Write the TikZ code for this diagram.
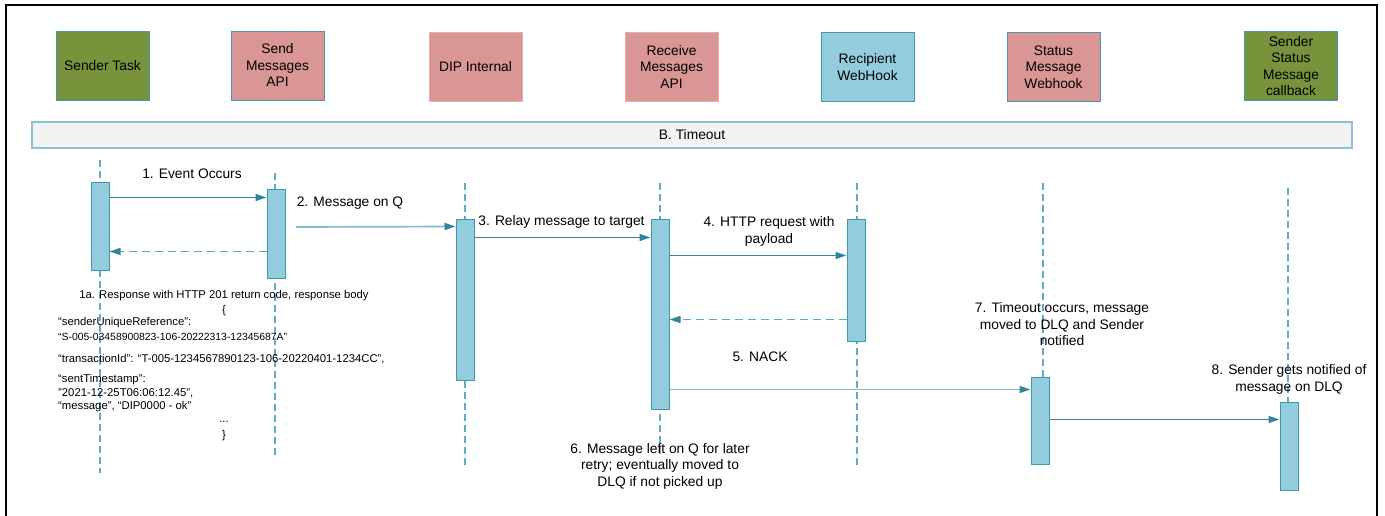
\documentclass[tikz,border=0pt]{standalone}
\usepackage{fontspec}
\setmainfont{Liberation Sans}
\usetikzlibrary{arrows.meta}
\definecolor{olive}{HTML}{77933C}
\definecolor{pinkf}{HTML}{D99694}
\definecolor{pinkb}{HTML}{E2AFAD}
\definecolor{bluef}{HTML}{93CDDD}
\definecolor{boxb}{HTML}{4A96AD}
\definecolor{teal}{HTML}{31849B}
\definecolor{lteal}{HTML}{80BCCB}
\definecolor{rteal}{HTML}{5DA9BF}
\definecolor{lifec}{HTML}{5FAEC4}
\definecolor{actb}{HTML}{3F98B2}
\definecolor{barb}{HTML}{8CC3D2}
\tikzset{
  hdr/.style={rectangle, minimum width=93pt, minimum height=69pt, inner sep=1pt, align=center,
    font=\fontsize{13.8}{16.5}\selectfont, line width=0.9pt},
  greenbox/.style={hdr, fill=olive, draw=boxb},
  pinkbox/.style={hdr, fill=pinkf, draw=boxb},
  pinkpale/.style={hdr, fill=pinkf, draw=pinkb},
  bluebox/.style={hdr, fill=bluef, draw=boxb},
  act/.style={rectangle, minimum width=18pt, inner sep=0pt, fill=bluef, draw=actb, line width=1pt},
  life/.style={draw=lifec, line width=1.2pt, dash pattern=on 7pt off 4pt},
  msg/.style={draw=teal, line width=1.3pt, -{Triangle[length=11pt,width=7pt]}},
  msgl/.style={draw=lteal, line width=1.7pt, -{Triangle[length=11pt,width=7pt,color=teal]}},
  ret/.style={draw=rteal, line width=1.6pt, dash pattern=on 8pt off 5pt, -{Triangle[length=11pt,width=7pt,color=teal]}},
  lbl/.style={inner sep=0pt, align=center, font=\fontsize{13.8}{16.5}\selectfont},
  small/.style={inner sep=0pt, font=\fontsize{11.3}{13.5}\selectfont},
  tiny/.style={inner sep=0pt, font=\fontsize{10.4}{12.5}\selectfont},
}
\begin{document}
\begin{tikzpicture}[x=1pt, y=-1pt]
\useasboundingbox (0,0) rectangle (1385,516);
% frame
\draw[line width=2.2pt] (6,518) -- (6,5) -- (1377,5) -- (1377,518);

% header boxes
\node[greenbox] (ST) at (102.5,65.5) {Sender Task};
\node[pinkbox] (SM) at (277.5,65.5) {Send\\Messages\\API};
\node[pinkpale] (DIP) at (475.5,67) {DIP Internal};
\node[pinkpale] (RM) at (671.5,67) {Receive\\Messages\\API};
\node[bluebox] (RW) at (867.5,67) {Recipient\\WebHook};
\node[pinkbox] (SW) at (1053.5,67) {Status\\Message\\Webhook};
\node[greenbox] (SC) at (1291,66) {Sender\\Status\\Message\\callback};

% timeout bar
\node[rectangle, minimum width=1320pt, minimum height=26pt, fill=black!5, draw=barb, line width=1.2pt,
  font=\fontsize{13.8}{16.5}\selectfont] (TO) at (692,135) {B. Timeout};

% lifelines
\coordinate (lST1) at (100,160); \coordinate (lST2) at (100,473);
\coordinate (lSM1) at (275,173); \coordinate (lSM2) at (275,459);
\coordinate (lDIP1) at (465,183); \coordinate (lDIP2) at (465,468);
\coordinate (lRM1) at (660,183); \coordinate (lRM2) at (660,457);
\coordinate (lRW1) at (857,183); \coordinate (lRW2) at (857,468);
\coordinate (lSW1) at (1043,183); \coordinate (lSW2) at (1043,469);
\coordinate (lSC1) at (1288,188); \coordinate (lSC2) at (1288,404);
\draw[life] (lST1) -- (lST2);
\draw[life] (lSM1) -- (lSM2);
\draw[life] (lDIP1) -- (lDIP2);
\draw[life] (lRM1) -- (lRM2);
\draw[life] (lRW1) -- (lRW2);
\draw[life] (lSW1) -- (lSW2);
\draw[life] (lSC1) -- (lSC2);

% activations
\node[act, minimum height=87pt] (aST) at (100,226.5) {};
\node[act, minimum height=88pt] (aSM) at (276,234) {};
\node[act, minimum height=161pt] (aDIP) at (465,299.5) {};
\node[act, minimum height=190pt] (aRM) at (660,314) {};
\node[act, minimum height=122pt] (aRW) at (856,280) {};
\node[act, minimum height=87pt] (aSW) at (1040,420.5) {};
\node[act, minimum height=88pt] (aSC) at (1289,446) {};

% messages
\draw[msg] ([yshift=-15pt]aST.north east) -- ([yshift=-8pt]aSM.north west);
\draw[ret] ([yshift=-62pt]aSM.north west) -- ([yshift=-69pt]aST.north east);
\coordinate (q2) at (296,227);
\draw[msgl] (q2) -- ([yshift=-8pt]aDIP.north west);
\draw[msg] ([yshift=-19pt]aDIP.north east) -- ([yshift=-19pt]aRM.north west);
\draw[msg] ([yshift=-37pt]aRM.north east) -- ([yshift=-37pt]aRW.north west);
\draw[ret] ([yshift=-101pt]aRW.north west) -- ([yshift=-101pt]aRM.north east);
\draw[msgl] ([yshift=-171pt]aRM.north east) -- ([yshift=-13pt]aSW.north west);
\draw[msg] ([yshift=-43pt]aSW.north east) -- ([yshift=-18pt]aSC.north west);

% labels
\node[lbl] (L1) at (192,174) {1. Event Occurs};
\node[lbl] (L2) at (350,203) {2. Message on Q};
\node[lbl] (L3) at (561.5,222) {3. Relay message to target};
\node[lbl] (L4) at (769,231.5) {4. HTTP request with\\payload};
\node[lbl] (L5) at (760,357) {5. NACK};
\node[lbl] (L6) at (660,466) {6. Message left on Q for later\\retry; eventually moved to\\DLQ if not picked up};
\node[lbl] (L7) at (1062,324.5) {7. Timeout occurs, message\\moved to DLQ and Sender\\notified};
\node[lbl] (L8) at (1289,379.5) {8. Sender gets notified of\\message on DLQ};

% 1a response body
\node[small] (R0) at (224,296) {1a. Response with HTTP 201 return code, response body};
\node[small] (R1) at (224,311) {\{};
\node[small, anchor=west] (R2) at (58,323) {“senderUniqueReference”:};
\node[tiny, anchor=west] (R3) at (58,337) {“S-005-03458900823-106-20222313-12345687A”};
\node[small, anchor=west] (R4) at (58,359) {“transactionId”: “T-005-1234567890123-106-20220401-1234CC”,};
\node[small, anchor=west] (R5) at (58,380) {“sentTimestamp”:};
\node[small, anchor=west] (R6) at (58,393.5) {”2021-12-25T06:06:12.45”,};
\node[small, anchor=west] (R7) at (58,407) {“message”, “DIP0000 - ok”};
\node[small] (R8) at (224,422) {...};
\node[small] (R9) at (224,436) {\}};
\end{tikzpicture}
\end{document}
